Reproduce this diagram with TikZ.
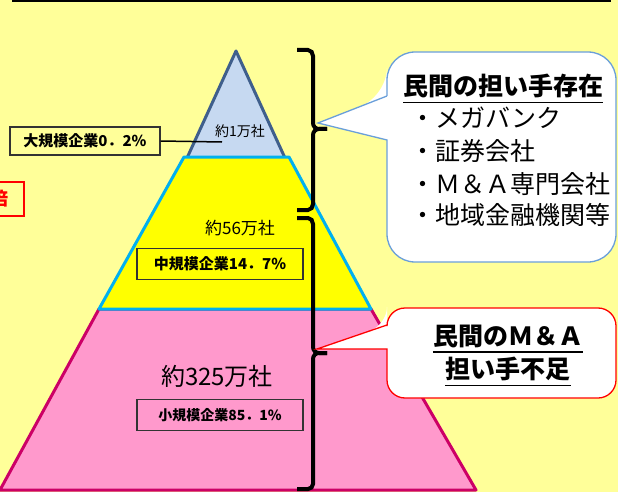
\documentclass[tikz,border=0pt]{standalone}
\usepackage{fontspec}
\newfontfamily\jp{Noto Sans CJK JP}
\definecolor{bg}{HTML}{FFFF99}
\definecolor{tierY}{HTML}{FFFF00}
\definecolor{tierYline}{HTML}{00B0F0}
\definecolor{tierB}{HTML}{C6D9F1}
\definecolor{tierBline}{HTML}{3F5F8C}
\definecolor{tierP}{HTML}{FF99CC}
\definecolor{tierPline}{HTML}{CC0066}
\definecolor{callblue}{HTML}{6A9FDA}
\newcommand{\fs}[1]{\fontsize{#1}{#1}\selectfont}
\begin{document}
\begin{tikzpicture}[x=1pt,y=-1pt,font=\jp,
  tier/.style={line width=3pt,line join=round},
  bracestroke/.style={line width=4pt},
  pctbox/.style={draw=black!80,line width=1.3pt,inner sep=0pt,minimum width=166pt,minimum height=31pt,font=\jp\bfseries\fs{15}},
  listline/.style={anchor=west,font=\jp\fs{25}},
  calltext/.style={font=\jp\bfseries\fs{25},inner sep=0pt},
  uline/.style={line width=1.8pt,draw=black}]
\useasboundingbox (0,0) rectangle (618,492);
\clip (0,0) rectangle (618,492);
\fill[bg] (0,0) rectangle (618,492);
\draw[line width=2pt] (12,1) -- (611,1);

% pyramid tiers
\draw[tier,fill=tierP,draw=tierPline] (99,309) -- (371,309) -- (476,490) -- (0,490) -- cycle;
\draw[tier,fill=tierB,draw=tierBline] (236,51) -- (285,158) -- (187,158) -- cycle;
\draw[tier,fill=tierY,draw=tierYline] (184,157) -- (289,157) -- (371,309) -- (99,309) -- cycle;

% tier labels
\node[font=\jp\fs{14}] (n1) at (240,131) {約1万社};
\node[font=\jp\fs{17}] (n56) at (240,228) {約56万社};
\node[font=\jp\fs{24}] (n325) at (217,376) {約325万社};

\node[pctbox,fill=bg,minimum width=150pt,minimum height=28pt] (big) at (85,141) {大規模企業0．2\%};
\coordinate (bigend) at (222,142);
\draw[line width=1.5pt] (big.east) -- (bigend);
\node[pctbox,fill=tierY] (mid) at (220,264) {中規模企業14．7\%};
\node[pctbox,fill=tierP,font=\jp\bfseries\fs{14}] (small) at (220,415) {小規模企業85．1\%};

% left red box (cut off at the edge)
\node[draw=red,line width=2pt,minimum width=60pt,minimum height=34pt,inner sep=0pt] (bai) at (-6,199) {};
\node[text=red,font=\jp\bfseries\fs{18},anchor=east,inner sep=0pt] (baitext) at (9,199) {倍};

% braces
\draw[bracestroke] (297,50) -- (308,50) to[out=0,in=90] (313,56) -- (313,123)
  to[out=-90,in=180] (319,129) -- (327,129);
\draw[bracestroke] (327,129) -- (319,129) to[out=180,in=90] (313,135) -- (313,204)
  to[out=-90,in=0] (308,210) -- (297,210);
\draw[bracestroke] (297,218) -- (308,218) to[out=0,in=90] (313,224) -- (313,347)
  to[out=-90,in=180] (319,353) -- (327,353);
\draw[bracestroke] (327,353) -- (319,353) to[out=180,in=90] (313,359) -- (313,484)
  to[out=-90,in=0] (308,489) -- (297,489);

% callout 1
\coordinate (tip1) at (318,123);
\fill[white] (387,96) -- (tip1) -- (387,140) [rounded corners=28pt] -- (387,262) -- (616,262) -- (616,52) -- (387,52) -- cycle;
\draw[callblue,line width=1.3pt] (387,96) -- (tip1) -- (387,140) [rounded corners=28pt] -- (387,262) -- (616,262) -- (616,52) -- (387,52) [sharp corners] -- (387,96);
\node[anchor=west,calltext] (h1) at (403,86) {民間の担い手存在};
\draw[uline] ([yshift=-7pt]h1.base west) -- ([yshift=-7pt]h1.base east);
\node[listline] (l1) at (407,118) {・メガバンク};
\node[listline] (l2) at (407,151) {・証券会社};
\node[listline] (l3) at (407,184) {・Ｍ＆Ａ専門会社};
\node[listline] (l4) at (407,215) {・地域金融機関等};

% callout 2
\coordinate (tip2) at (317,349);
\fill[white] (387,325) -- (tip2) -- (387,349) [rounded corners=18pt] -- (387,398) -- (616,398) -- (616,308) -- (387,308) -- cycle;
\draw[red,line width=1.3pt] (387,325) -- (tip2) -- (387,349) [rounded corners=18pt] -- (387,398) -- (616,398) -- (616,308) -- (387,308) [sharp corners] -- (387,325);
\node[calltext] (h2a) at (508,336) {民間のＭ＆Ａ};
\draw[uline] ([yshift=-7pt]h2a.base west) -- ([yshift=-7pt]h2a.base east);
\node[calltext] (h2b) at (508,369) {担い手不足};
\draw[uline] ([yshift=-7pt]h2b.base west) -- ([yshift=-7pt]h2b.base east);
\end{tikzpicture}
\end{document}
